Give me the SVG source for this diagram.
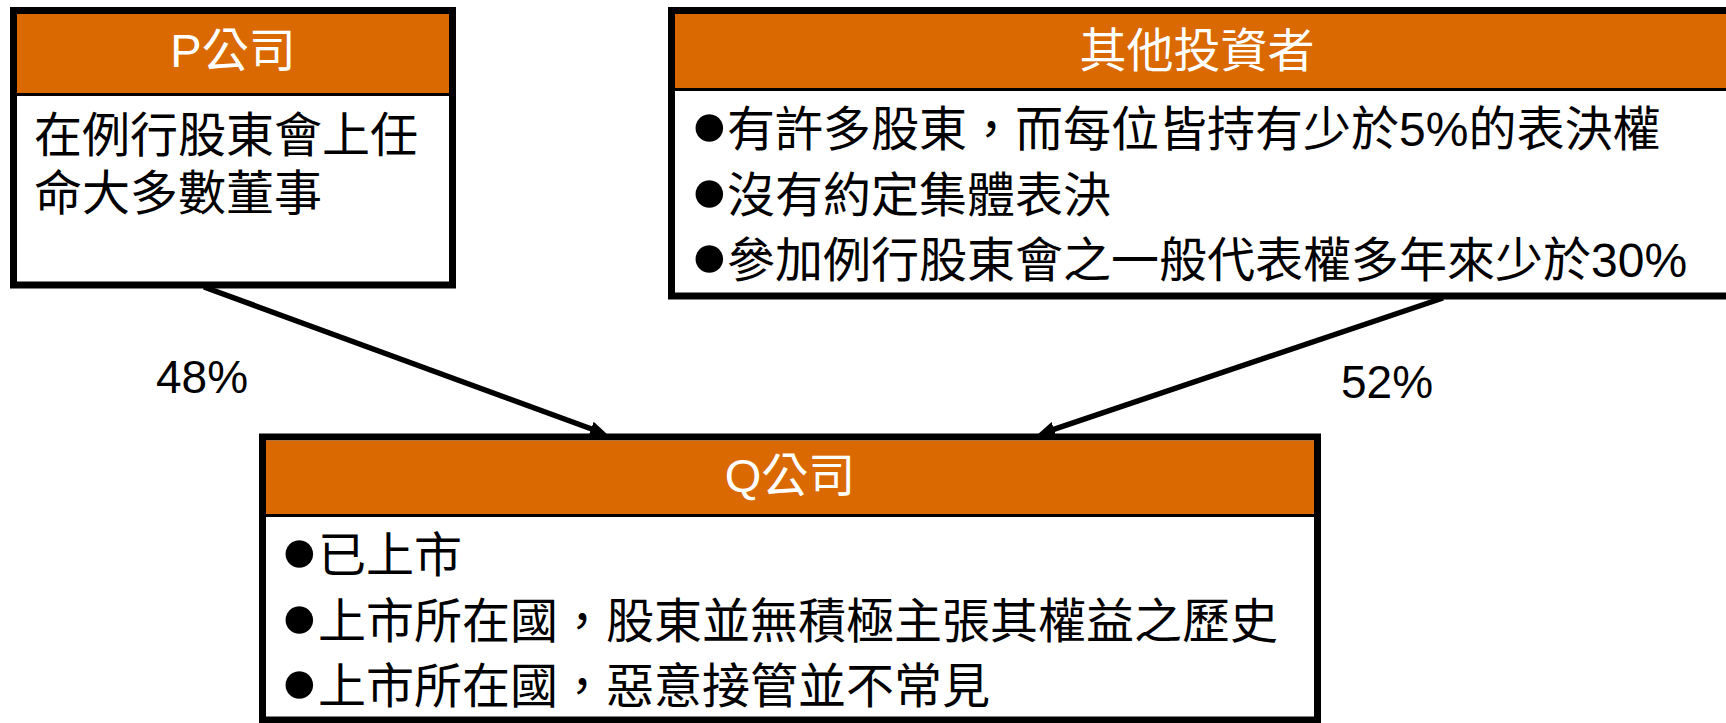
<svg xmlns="http://www.w3.org/2000/svg" width="1726" height="723" viewBox="0 0 1726 723">
<style>
.box{fill:#ffffff;stroke:#000000;stroke-width:7}
.hdr{fill:#D96900}
.sep{stroke:#000000;stroke-width:3}
.t{font-family:"Liberation Sans","Noto Sans CJK TC",sans-serif;font-size:48px;fill:#000000}
.title{font-family:"Liberation Sans","Noto Sans CJK TC",sans-serif;font-size:47px;fill:#ffffff;text-anchor:middle}
.b{font-family:"Liberation Sans","DejaVu Sans",sans-serif;font-size:64px}
.lbl{font-family:"Liberation Sans",sans-serif;font-size:46px;fill:#000000}
.conn{stroke:#000000;stroke-width:5.5;fill:none;marker-end:url(#ah)}
</style>
<defs>
<marker id="ah" markerUnits="userSpaceOnUse" viewBox="0 0 18 15" refX="5" refY="7.5" markerWidth="18" markerHeight="15" orient="auto">
<path d="M0,0 L18,7.5 L0,15 z" fill="#000000"/>
</marker>
</defs>
<rect width="1726" height="723" fill="#ffffff"/>

<g id="connectors">
<line class="conn" x1="204" y1="287" x2="595.8" y2="430.5"/>
<line class="conn" x1="1443" y1="298" x2="1049.3" y2="430.8"/>
<text class="lbl" x="156" y="393">48%</text>
<text class="lbl" x="1341" y="398">52%</text>
</g>

<g id="node-p">
<rect class="box" x="13.5" y="10.5" width="439" height="274.5"/>
<rect class="hdr" x="17" y="14" width="432" height="80"/>
<line class="sep" x1="17" y1="94.5" x2="449" y2="94.5"/>
<text class="title" x="233" y="67">P公司</text>
<text class="t" x="34" y="152">在例行股東會上任</text>
<text class="t" x="34" y="210">命大多數董事</text>
</g>

<g id="node-others">
<rect class="box" x="671.5" y="10.5" width="1070" height="285.5"/>
<rect class="hdr" x="675" y="14" width="1060" height="75"/>
<line class="sep" x1="675" y1="89.5" x2="1735" y2="89.5"/>
<text class="title" x="1197" y="67">其他投資者</text>
<text class="t" y="146"><tspan class="b" x="690">●</tspan><tspan x="727">有許多股東，而每位皆持有少於5%的表決權</tspan></text>
<text class="t" y="211.5"><tspan class="b" x="690">●</tspan><tspan x="727">沒有約定集體表決</tspan></text>
<text class="t" y="277"><tspan class="b" x="690">●</tspan><tspan x="727">參加例行股東會之一般代表權多年來少於30%</tspan></text>
</g>

<g id="node-q">
<rect class="box" x="262.5" y="437" width="1055" height="283"/>
<rect class="hdr" x="266" y="440.5" width="1048" height="74"/>
<line class="sep" x1="266" y1="515.5" x2="1314" y2="515.5"/>
<text class="title" x="790" y="492">Q公司</text>
<text class="t" y="572"><tspan class="b" x="280">●</tspan><tspan x="318">已上市</tspan></text>
<text class="t" y="638"><tspan class="b" x="280">●</tspan><tspan x="318">上市所在國，股東並無積極主張其權益之歷史</tspan></text>
<text class="t" y="703"><tspan class="b" x="280">●</tspan><tspan x="318">上市所在國，惡意接管並不常見</tspan></text>
</g>
</svg>
